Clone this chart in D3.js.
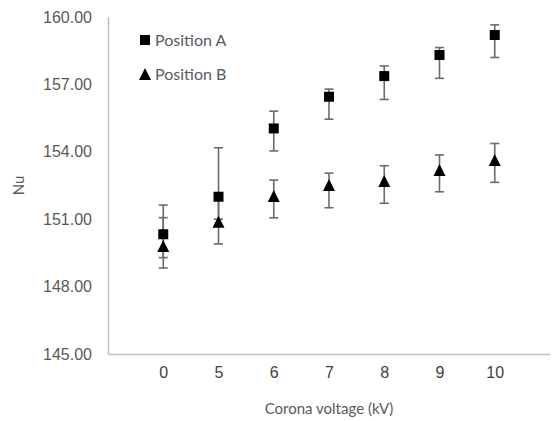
<!DOCTYPE html>
<html>
<head>
<meta charset="utf-8">
<script src="https://cdn.jsdelivr.net/npm/d3@7"></script>
<style>
  body { margin: 0; background: #fff; }
  svg { display: block; font-family: Lato, "Open Sans", sans-serif; }
</style>
</head>
<body>
<div id="chart"></div>
<script>
// categories (kV)
var voltages = ["0", "5", "6", "7", "8", "9", "10"];

// Position A
var valuesA = [150.33, 152.00, 155.04, 156.45, 157.37, 158.31, 159.20];
var plusA   = [1.30, 2.18, 0.77, 0.34, 0.45, 0.33, 0.45];
var minusA  = [1.04, 1.00, 1.00, 1.00, 1.04, 1.04, 1.00];

// Position B
var valuesB = [149.81, 150.89, 152.03, 152.52, 152.70, 153.19, 153.63];
var plusB   = [1.26, 1.10, 0.71, 0.53, 0.68, 0.67, 0.74];
var minusB  = [0.98, 0.99, 0.97, 1.01, 0.99, 0.97, 0.99];

var yTicks = [145, 148, 151, 154, 157, 160];

let W = 552, H = 421;
let plotLeft = 108, plotRight = 550, plotTop = 17, plotBottom = 354;

let svg = d3.select("#chart").append("svg")
    .attr("width", W)
    .attr("height", H);

let x = d3.scalePoint()
    .domain(voltages)
    .range([plotLeft, plotRight])
    .padding(1);

let y = d3.scaleLinear()
    .domain([145, 160])
    .range([plotBottom, plotTop]);

// y axis
let yAxis = svg.append("g")
    .attr("transform", `translate(${plotLeft},0)`)
    .call(d3.axisLeft(y).tickValues(yTicks).tickSize(0).tickPadding(16).tickFormat(d3.format(".2f")));
yAxis.select(".domain").attr("stroke", "#bfbfbf").attr("stroke-width", 1.5);
yAxis.selectAll("text")
    .style("font-size", "16px")
    .attr("fill", "#595959");

// x axis
let xAxis = svg.append("g")
    .attr("transform", `translate(0,${plotBottom})`)
    .call(d3.axisBottom(x).tickSize(0).tickPadding(13).tickSizeOuter(0));
xAxis.select(".domain").attr("stroke", "#bfbfbf").attr("stroke-width", 1.5);
xAxis.selectAll("text")
    .style("font-size", "16px")
    .attr("fill", "#404040");

// axis titles
svg.append("text")
    .attr("x", (plotLeft + plotRight) / 2)
    .attr("y", 414)
    .attr("text-anchor", "middle")
    .style("font-size", "15px")
    .attr("fill", "#595959")
    .text("Corona voltage (kV)");

svg.append("text")
    .attr("transform", `translate(24,${(plotTop + plotBottom) / 2}) rotate(-90)`)
    .attr("text-anchor", "middle")
    .style("font-size", "15px")
    .attr("fill", "#595959")
    .text("Nu");

let seriesA = voltages.map(function(v, i) { return {v: v, val: valuesA[i], plus: plusA[i], minus: minusA[i]}; });
let seriesB = voltages.map(function(v, i) { return {v: v, val: valuesB[i], plus: plusB[i], minus: minusB[i]}; });

let capW = 4.5;
let errColor = "#6b6b6b";

let drawErrors = function(data) {
    let g = svg.append("g").attr("stroke", errColor).attr("stroke-width", 1.6);
    g.selectAll(null).data(data).enter().append("line")
        .attr("x1", function(d) { return x(d.v); })
        .attr("x2", function(d) { return x(d.v); })
        .attr("y1", function(d) { return y(d.val + d.plus); })
        .attr("y2", function(d) { return y(d.val - d.minus); });
    g.selectAll(null).data(data).enter().append("line")
        .attr("x1", function(d) { return x(d.v) - capW; })
        .attr("x2", function(d) { return x(d.v) + capW; })
        .attr("y1", function(d) { return y(d.val + d.plus); })
        .attr("y2", function(d) { return y(d.val + d.plus); });
    g.selectAll(null).data(data).enter().append("line")
        .attr("x1", function(d) { return x(d.v) - capW; })
        .attr("x2", function(d) { return x(d.v) + capW; })
        .attr("y1", function(d) { return y(d.val - d.minus); })
        .attr("y2", function(d) { return y(d.val - d.minus); });
};

drawErrors(seriesA);
drawErrors(seriesB);

let sq = 10;
let triW = 12, triH = 12;
let triPath = `M0,${-triH / 2}L${triW / 2},${triH / 2}L${-triW / 2},${triH / 2}Z`;

svg.append("g").selectAll("rect")
    .data(seriesA)
    .enter()
    .append("rect")
    .attr("x", function(d) { return x(d.v) - sq / 2; })
    .attr("y", function(d) { return y(d.val) - sq / 2; })
    .attr("width", sq)
    .attr("height", sq)
    .attr("fill", "#000");

svg.append("g").selectAll("path")
    .data(seriesB)
    .enter()
    .append("path")
    .attr("transform", function(d) { return `translate(${x(d.v)},${y(d.val)})`; })
    .attr("d", triPath)
    .attr("fill", "#000");

// legend
let legend = svg.append("g").attr("transform", "translate(145,40)");
legend.append("rect")
    .attr("x", -sq / 2).attr("y", -sq / 2)
    .attr("width", sq).attr("height", sq)
    .attr("fill", "#000");
legend.append("text")
    .attr("x", 10).attr("y", 0).attr("dy", "0.35em")
    .style("font-size", "16px")
    .attr("fill", "#595959")
    .text("Position A");
legend.append("path")
    .attr("transform", "translate(0,34)")
    .attr("d", triPath)
    .attr("fill", "#000");
legend.append("text")
    .attr("x", 10).attr("y", 34).attr("dy", "0.35em")
    .style("font-size", "16px")
    .attr("fill", "#595959")
    .text("Position B");
</script>
</body>
</html>
